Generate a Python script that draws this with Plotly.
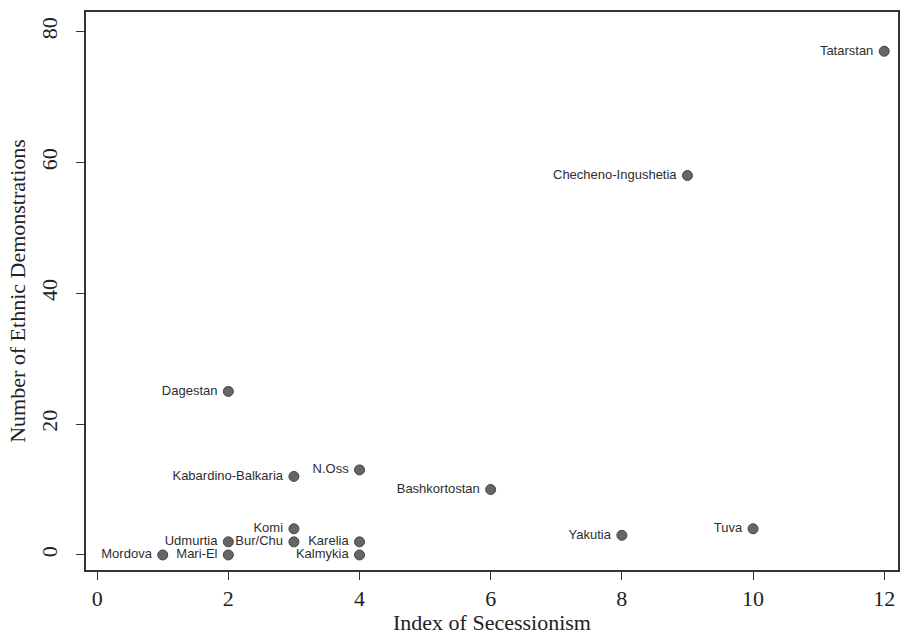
import plotly.graph_objects as go

regions = ["Tatarstan", "Checheno-Ingushetia", "Dagestan", "Kabardino-Balkaria", "N.Oss",
           "Bashkortostan", "Yakutia", "Tuva", "Komi", "Bur/Chu", "Udmurtia", "Karelia",
           "Kalmykia", "Mari-El", "Mordova"]
secessionism = [12, 9, 2, 3, 4, 6, 8, 10, 3, 3, 2, 4, 4, 2, 1]
demonstrations = [77, 58, 25, 12, 13, 10, 3, 4, 4, 2, 2, 2, 0, 0, 0]

x_ticks = [0, 2, 4, 6, 8, 10, 12]
y_ticks = [0, 20, 40, 60, 80]

fig = go.Figure()
fig.add_trace(go.Scatter(
    x=secessionism, y=demonstrations, mode="markers+text",
    text=[r + " " for r in regions], textposition="middle left",
    textfont=dict(family="Liberation Sans, Arial, sans-serif", size=13, color="#2e2e2e"),
    marker=dict(size=10, color="#666666", line=dict(color="#444444", width=1)),
    cliponaxis=False, showlegend=False,
))

axis_font = dict(family="Liberation Serif, Times New Roman, serif", size=22, color="#222222")
fig.update_layout(
    width=903, height=635,
    margin=dict(l=86, r=5, t=12, b=65),
    plot_bgcolor="white", paper_bgcolor="white",
    xaxis=dict(range=[-0.17, 12.21], tickvals=x_ticks, ticks="outside", ticklen=8,
               tickcolor="#333", showgrid=False, zeroline=False, automargin=False,
               showline=True, linecolor="#333", linewidth=1.5, mirror=True,
               tickfont=axis_font,
               title=dict(text="Index of Secessionism", font=axis_font)),
    yaxis=dict(range=[-2.3, 83.0], tickvals=y_ticks, ticks="outside", ticklen=8,
               tickcolor="#333", showgrid=False, zeroline=False, tickangle=-90,
               automargin=False, ticklabelstandoff=10,
               showline=True, linecolor="#333", linewidth=1.5, mirror=True,
               tickfont=axis_font,
               title=dict(text="Number of Ethnic Demonstrations", font=axis_font, standoff=6)),
)
fig.write_html("out.html", config={"displayModeBar": False},
               post_script="document.body.style.margin='0px';document.body.style.overflow='hidden';")
